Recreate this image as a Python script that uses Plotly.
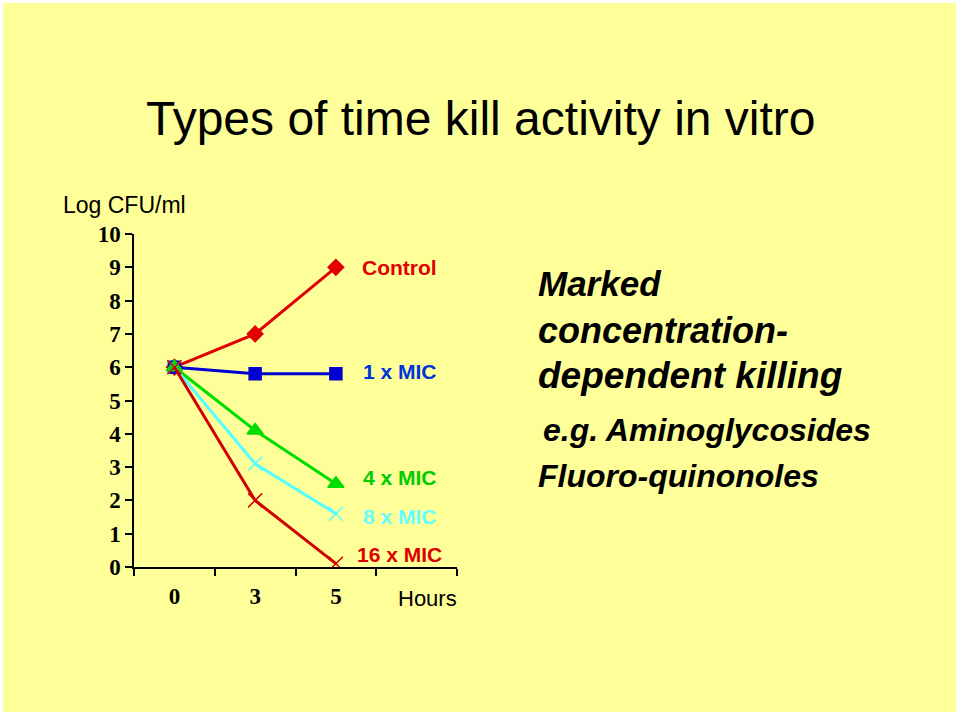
import plotly.graph_objects as go

# time points (hours) and log CFU/ml readings
hours = ["0", "3", "5"]
control = [6, 7, 9]
mic_1x = [6, 5.8, 5.8]
mic_4x = [6, 4.1, 2.5]
mic_8x = [6, 3.1, 1.6]
mic_16x = [6, 2.0, 0.1]

series_names = ["Control", "1 x MIC", "4 x MIC", "8 x MIC", "16 x MIC"]
label_y = [9, 5.88, 2.7, 1.53, 0.39]

bg = "#FFFF99"
lines = [
    (control, "#E00000", "diamond", 12, "#E00000"),
    (mic_1x, "#0000D0", "square", 12, "#0033DD"),
    (mic_4x, "#00DD00", "triangle-up", 14, "#00CC00"),
    (mic_8x, "#55FFFF", "x-thin-open", 14, "#66FFFF"),
    (mic_16x, "#D00000", "x-thin-open", 14, "#DD0000"),
]

fig = go.Figure()
for (vals, col, sym, size, _), name in zip(lines, series_names):
    fig.add_trace(go.Scatter(
        x=hours, y=vals, name=name, mode="lines+markers",
        line=dict(color=col, width=3),
        marker=dict(symbol=sym, size=size, color=col, line=dict(color=col, width=1.5)),
    ))

# series labels beside the line ends
for (vals, col, sym, size, tcol), name, ly in zip(lines, series_names, label_y):
    fig.add_annotation(x=0.823, y=ly, xref="paper", yref="y", text=name,
                       showarrow=False, xanchor="center",
                       font=dict(family="Liberation Sans", size=21, weight="bold", color=tcol))

sans = "Liberation Sans"
fig.add_annotation(x=(481 - 134) / 323, y=(567 - 118) / 333, xref="paper", yref="paper",
                   text="Types of time kill activity in vitro", showarrow=False,
                   xanchor="center", yanchor="middle",
                   font=dict(family=sans, size=48, color="black"))
fig.add_annotation(x=(61 - 134) / 323, y=(567 - 205) / 333, xref="paper", yref="paper",
                   text="Log CFU/ml", showarrow=False, xanchor="left", yanchor="middle",
                   font=dict(family=sans, size=23, color="black"))
fig.add_annotation(x=(427 - 134) / 323, y=(567 - 598) / 333, xref="paper", yref="paper",
                   text="Hours", showarrow=False, xanchor="center", yanchor="middle",
                   font=dict(family=sans, size=22, color="black"))

right_text = [
    ("<b><i>Marked</i></b>", 283, 35, 536),
    ("<b><i>concentration-</i></b>", 330, 36, 536),
    ("<b><i>dependent killing</i></b>", 375, 37, 536),
    ("<b><i>e.g. Aminoglycosides</i></b>", 430, 32, 541),
    ("<b><i>Fluoro-quinonoles</i></b>", 476, 32, 536),
]
for txt, py, fs, px_ in right_text:
    fig.add_annotation(x=(px_ - 134) / 323, y=(567 - py) / 333, xref="paper", yref="paper",
                       text=txt, showarrow=False, xanchor="left", yanchor="middle",
                       font=dict(family=sans, size=fs, color="black"))

# yellow slide panel with thin white frame
fig.add_shape(type="rect", xref="paper", yref="paper", layer="below",
              x0=(3 - 134) / 323, x1=(956 - 134) / 323,
              y0=(567 - 712) / 333, y1=(567 - 3) / 333,
              fillcolor=bg, line=dict(width=0))

serif = dict(family="Liberation Serif", size=23, weight="bold", color="black")
fig.update_layout(
    width=960, height=716,
    margin=dict(l=134, r=503, t=234, b=149),
    paper_bgcolor="white", plot_bgcolor=bg,
    showlegend=False,
    xaxis=dict(type="category", categoryorder="array", categoryarray=hours + [" "],
               range=[-0.5, 3.5], tickson="boundaries", ticks="outside", ticklen=7,
               tickwidth=1.5, tickcolor="black", showline=True, linecolor="black",
               linewidth=1.5, showgrid=False, zeroline=False, ticklabelstandoff=8,
               tickfont=serif),
    yaxis=dict(range=[0, 10], dtick=1, ticks="outside", ticklen=7, tickwidth=1.5,
               tickcolor="black", showline=True, linecolor="black", linewidth=1.5,
               showgrid=False, zeroline=False, tickfont=serif),
)
fig.write_html("out.html", config={"displayModeBar": False},
               post_script="document.body.style.margin='0';")
